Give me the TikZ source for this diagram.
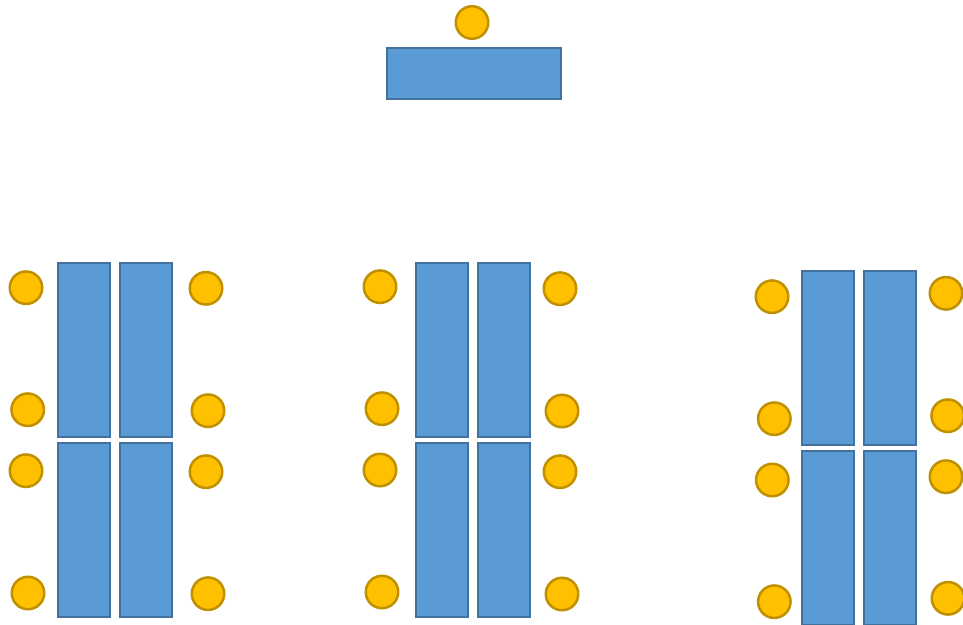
\documentclass[tikz,border=0pt]{standalone}
\usetikzlibrary{positioning}
\definecolor{tablefill}{HTML}{5B9BD5}
\definecolor{tabledraw}{HTML}{41719C}
\definecolor{seatfill}{HTML}{FFC000}
\definecolor{seatdraw}{HTML}{BF9000}
\tikzset{
  desk/.style={rectangle, draw=tabledraw, fill=tablefill, line width=2pt, inner sep=0pt,
    minimum width=52pt, minimum height=174pt},
  seat/.style={circle, draw=seatdraw, fill=seatfill, line width=2.5pt, inner sep=0pt,
    minimum size=32.5pt},
}
\begin{document}
\begin{tikzpicture}[x=1pt,y=-1pt]
\useasboundingbox (0,0) rectangle (963,624);
\clip (0,0) rectangle (963,624);
% top table
\node[desk, minimum width=174pt, minimum height=51.5pt] (top) at (474.2,73.3) {};
\node[seat] (topseat) at (472,22.5) {};
% left group
\node[desk] (la) at (83.9,349.7) {};
\node[desk] (lb) at (146,349.7) {};
\node[desk] (lc) at (83.9,529.5) {};
\node[desk] (ld) at (146,529.5) {};
\node[seat] (ls1) at (26,287.7) {};
\node[seat] (ls2) at (206,288.3) {};
\node[seat] (ls3) at (27.7,409.7) {};
\node[seat] (ls4) at (208,410.7) {};
\node[seat] (ls5) at (26,470.7) {};
\node[seat] (ls6) at (206,471.7) {};
\node[seat] (ls7) at (28,593) {};
\node[seat] (ls8) at (208,593.7) {};
% middle group
\node[desk] (ma) at (442.2,349.7) {};
\node[desk] (mb) at (504.2,349.7) {};
\node[desk] (mc) at (442.2,529.5) {};
\node[desk] (md) at (504.2,529.5) {};
\node[seat] (ms1) at (380,286.7) {};
\node[seat] (ms2) at (560,288.7) {};
\node[seat] (ms3) at (382,408.7) {};
\node[seat] (ms4) at (562,411) {};
\node[seat] (ms5) at (380,470) {};
\node[seat] (ms6) at (560,471.7) {};
\node[seat] (ms7) at (382,592) {};
\node[seat] (ms8) at (562,594) {};
% right group
\node[desk] (ra) at (828.3,357.5) {};
\node[desk] (rb) at (890.3,357.5) {};
\node[desk] (rc) at (828.3,538) {};
\node[desk] (rd) at (890.3,538) {};
\node[seat] (rs1) at (772,296.7) {};
\node[seat] (rs2) at (946,293.3) {};
\node[seat] (rs3) at (774.3,418.7) {};
\node[seat] (rs4) at (947.7,415.7) {};
\node[seat] (rs5) at (772.3,480) {};
\node[seat] (rs6) at (946,476.7) {};
\node[seat] (rs7) at (774.3,601.7) {};
\node[seat] (rs8) at (948,598.3) {};
\end{tikzpicture}
\end{document}
